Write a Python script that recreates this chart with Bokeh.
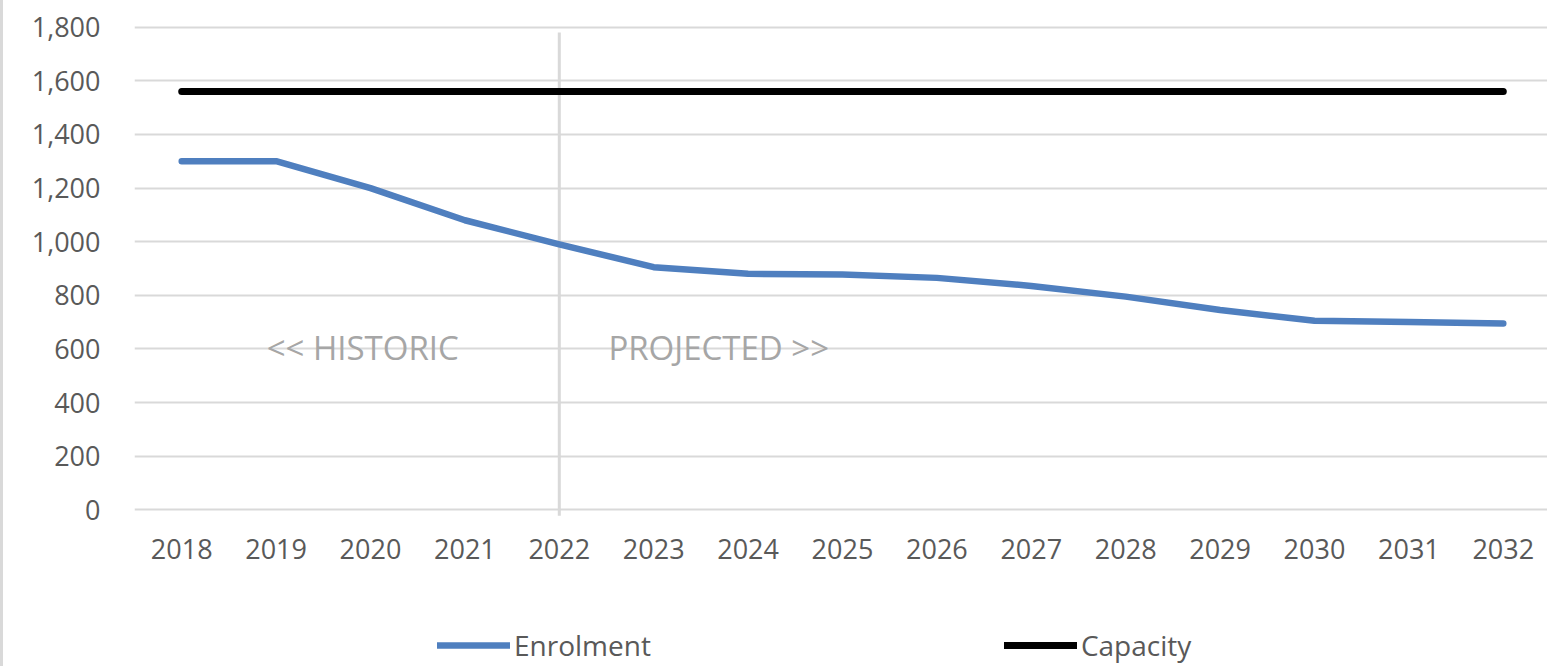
from bokeh.plotting import figure
from bokeh.layouts import column
from bokeh.models import Range1d, FixedTicker, Legend, LegendItem, NumeralTickFormatter, Label
from bokeh.embed import file_html
from bokeh.resources import INLINE

years = ["2018", "2019", "2020", "2021", "2022", "2023", "2024", "2025",
         "2026", "2027", "2028", "2029", "2030", "2031", "2032"]
enrolment = [1300, 1300, 1200, 1080, 990, 905, 880, 878, 865, 835, 795, 745, 705, 700, 695]
capacity = [1560] * len(years)
y_ticks = [0, 200, 400, 600, 800, 1000, 1200, 1400, 1600, 1800]
divider_year = "2022"
divider_span = [-22, 1780]
historic_label = "<< HISTORIC"
projected_label = "PROJECTED >>"
label_value = 605
series_names = ["Enrolment", "Capacity"]

xs = list(range(len(years)))
FONT = "Open Sans"
GRID = "#d9d9d9"
TXT = "#595959"
BLUE = "#4F7FBF"
BORDER = {"border-left": "3px solid #d9d9d9"}

p = figure(frame_width=1413, frame_height=492, output_backend="svg", toolbar_location=None,
           x_range=Range1d(-0.5, len(years) - 0.5), y_range=Range1d(-25, 1810),
           min_border_left=131, min_border_right=0, min_border_top=24, min_border_bottom=60)
p.styles = BORDER
p.outline_line_color = None

p.xgrid.grid_line_color = None
p.ygrid.grid_line_color = GRID
p.ygrid.grid_line_width = 2
p.yaxis.ticker = FixedTicker(ticks=y_ticks)
p.xaxis.ticker = FixedTicker(ticks=xs)
p.xaxis.major_label_overrides = {i: y for i, y in enumerate(years)}
p.yaxis.formatter = NumeralTickFormatter(format="0,0")
for ax in (p.xaxis, p.yaxis):
    ax.axis_line_color = None
    ax.major_tick_line_color = None
    ax.minor_tick_line_color = None
    ax.major_label_text_font = FONT
    ax.major_label_text_font_size = "27px"
    ax.major_label_text_color = TXT
p.yaxis.major_label_standoff = 28
p.xaxis.major_label_standoff = 16

di = years.index(divider_year)
p.segment(x0=[di], y0=[divider_span[0]], x1=[di], y1=[divider_span[1]],
          line_color=GRID, line_width=3)

p.line(xs, enrolment, line_color=BLUE, line_width=6.5, line_cap="round", line_join="round")
p.line(xs, capacity, line_color="#000000", line_width=7, line_cap="round")

p.add_layout(Label(x=di - 3.1, y=label_value, text=historic_label, text_font=FONT,
                   text_font_size="33px", text_color="#a6a6a6", text_baseline="middle"))
p.add_layout(Label(x=di + 0.52, y=label_value, text=projected_label, text_font=FONT,
                   text_font_size="33px", text_color="#a6a6a6", text_baseline="middle"))

# legend strip (its lines lie outside the visible range; only the legend shows)
lg = figure(width=1547, height=90, output_backend="svg", toolbar_location=None,
            x_range=Range1d(0, 1), y_range=Range1d(0, 1),
            min_border=0, min_border_left=0, min_border_right=0, min_border_top=0, min_border_bottom=0)
lg.styles = BORDER
lg.axis.visible = False
lg.grid.visible = False
lg.outline_line_color = None
l_en = lg.line([5, 6], [5, 6], line_color=BLUE, line_width=6.5, line_cap="round")
l_cap = lg.line([5, 6], [5, 6], line_color="#000000", line_width=7, line_cap="round")

legend = Legend(items=[LegendItem(label=series_names[0], renderers=[l_en]),
                       LegendItem(label=series_names[1], renderers=[l_cap])],
                orientation="horizontal", location=(303, 2),
                label_text_font=FONT, label_text_font_size="28px", label_text_color=TXT,
                label_height=28, glyph_height=28,
                glyph_width=73, label_standoff=4, spacing=353, border_line_color=None,
                background_fill_alpha=0, margin=0, padding=0)
lg.add_layout(legend, "center")

layout = column(p, lg, spacing=0)
open("out.html", "w").write(file_html(layout, INLINE))
